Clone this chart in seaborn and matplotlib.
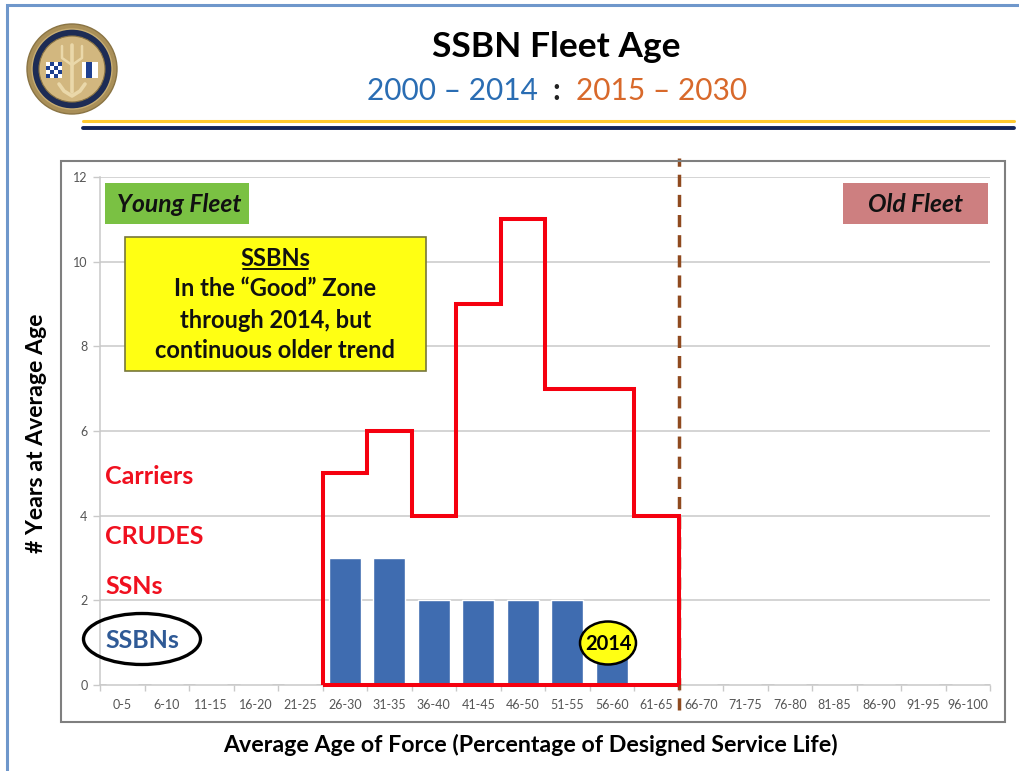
import numpy as np
import pandas as pd
import matplotlib
matplotlib.use('Agg')
import matplotlib.pyplot as plt
from matplotlib.patches import Circle, Ellipse, Rectangle
import seaborn as sns

age_bins = ['0-5', '6-10', '11-15', '16-20', '21-25', '26-30', '31-35', '36-40', '41-45', '46-50',
            '51-55', '56-60', '61-65', '66-70', '71-75', '76-80', '81-85', '86-90', '91-95', '96-100']
ssbn_years = [0, 0, 0, 0, 0, 3, 3, 2, 2, 2, 2, 1, 0, 0, 0, 0, 0, 0, 0, 0]
# red outline, from 26-30 to 61-65
outline_bins = age_bins[5:13]
outline_years = [5, 6, 4, 9, 11, 7, 7, 4]
y_ticks = [0, 2, 4, 6, 8, 10, 12]
side_labels = ['Carriers', 'CRUDES', 'SSNs', 'SSBNs']

sns.set_style('white')
plt.rcParams['font.family'] = ['Lato', 'DejaVu Sans']
plt.rcParams['text.color'] = 'black'
plt.rcParams['axes.labelcolor'] = 'black'

fig = plt.figure(figsize=(10.2, 7.71), dpi=100)
W, H = 1020, 771
ax = fig.add_axes([100 / W, 1 - 685 / H, 890 / W, 508 / H])

# bars
df = pd.DataFrame({'age': age_bins, 'years': ssbn_years})
sns.barplot(data=df, x='age', y='years', order=age_bins, color='#3f6cb0', saturation=1,
            width=0.72, ax=ax, zorder=3)
ax.set_xlim(-0.5, len(age_bins) - 0.5)
ax.set_ylim(0, 12)
ax.set_yticks(y_ticks)
ax.set_xticks(np.arange(len(age_bins)))
ax.set_xticklabels(age_bins)
ax.set_xticks(np.arange(len(age_bins) + 1) - 0.5, minor=True)
ax.grid(axis='y', color='#c9c9c9', lw=1.1, zorder=0)
ax.tick_params(axis='x', which='major', length=0, labelsize=9, labelcolor='#555555', pad=10)
ax.tick_params(axis='x', which='minor', length=4, width=1, color='#c9c9c9', bottom=True)
ax.tick_params(axis='y', length=5, width=1, color='#c9c9c9', left=True, labelsize=9,
               labelcolor='#555555', pad=4)
for side in ['top', 'right']:
    ax.spines[side].set_visible(False)
for side in ['left', 'bottom']:
    ax.spines[side].set_color('#c9c9c9')
    ax.spines[side].set_linewidth(1.1)

ax.set_xlabel('Average Age of Force (Percentage of Designed Service Life)', fontsize=16.7,
              fontweight='bold', va='center')
ax.xaxis.set_label_coords((530 - 100) / 890, -(745 - 685) / 508)
ax.set_ylabel('# Years at Average Age', fontsize=16.6, fontweight='bold', va='center')
ax.yaxis.set_label_coords((37 - 100) / 890, (685 - 433) / 508)

# red outline and the 65% limit
start = age_bins.index(outline_bins[0])
edges = np.arange(start, start + len(outline_bins) + 1) - 0.5
ax.stairs(outline_years, edges, baseline=0, fill=False, color='#f5000f', lw=2.9, zorder=5,
          clip_on=False)
ax.hlines(0, edges[0], edges[-1], color='#f5000f', lw=2.9, zorder=5, clip_on=False)
ax.axvline(edges[-1], ymin=-0.05, ymax=1.037, color='#8f4a1f', lw=2.5, dashes=(3.5, 2.3),
           clip_on=False, zorder=4)

# everything else is placed in pixels on a full-size overlay
ov = fig.add_axes([0, 0, 1, 1], zorder=10)
ov.set_xlim(0, W)
ov.set_ylim(H, 0)
ov.axis('off')


def box(x0, y0, x1, y1, fc, ec='none', lw=0, z=2):
    ov.add_patch(Rectangle((x0, y0), x1 - x0, y1 - y0, fc=fc, ec=ec, lw=lw, zorder=z))


# slide frame and chart frame
ov.plot([7.5, 7.5, W], [H, 5, 5], color='#6f97cb', lw=2.2, solid_joinstyle='miter')
box(61.5, 160.5, 1005.5, 722, 'none', ec='#7f7f7f', lw=1.5)

# header
ov.text(556, 47, 'SSBN Fleet Age', fontsize=25.5, fontweight='bold', ha='center', va='center')
ov.text(452, 91, '2000 – 2014', fontsize=21.5, color='#2a6db3', ha='center', va='center')
ov.text(556, 91, ':', fontsize=21.5, fontweight='bold', color='#222222', ha='center', va='center')
ov.text(662, 91, '2015 – 2030', fontsize=21.5, color='#d8692b', ha='center', va='center')
ov.plot([83, 1014], [121, 121], color='#fdc82f', lw=2.2)
ov.plot([83, 1014], [127.5, 127.5], color='#10235a', lw=2.8)

# seal
ov.add_patch(Circle((72, 69), 45, fc='#a98f58', ec='#8a7444', lw=1))
ov.add_patch(Circle((72, 69), 40, fc='#1d2c55', ec='#c7ad72', lw=1))
ov.add_patch(Circle((72, 69), 33, fc='#d2b77f', ec='#8a7444', lw=0.8))
ov.plot([72, 72], [45, 92], color='#ead8aa', lw=2.6)
ov.plot([62, 62, 72, 82, 82], [46, 58, 65, 58, 46], color='#ead8aa', lw=1.8)
ov.plot([59, 64, 72, 80, 85], [84, 91, 96, 91, 84], color='#ead8aa', lw=2.6)
box(46, 62, 62, 78, '#1d3f8f')
for i in range(4):
    for j in range(4):
        if (i + j) % 2 == 0:
            box(46 + i * 4, 62 + j * 4, 50 + i * 4, 66 + j * 4, 'white', z=3)
box(82, 62, 98, 78, 'white')
box(86, 62, 92, 78, '#1d3f8f', z=3)

# fleet tags
box(105, 183, 249, 224, '#7ac143')
ov.text(179, 204, 'Young Fleet', fontsize=17.7, fontweight='bold', style='italic', color='#111111',
        ha='center', va='center', zorder=3)
box(843, 183, 988, 224, '#cd7f80')
ov.text(916, 204, 'Old Fleet', fontsize=17.7, fontweight='bold', style='italic', color='#111111',
        ha='center', va='center', zorder=3)

# note
box(125, 236.5, 426, 370.5, '#ffff13', ec='#77773a', lw=1.2)
note_lines = ['SSBNs', 'In the “Good” Zone', 'through 2014, but', 'continuous older trend']
for line, y in zip(note_lines, [259, 289, 320, 351]):
    ov.text(275.5, y, line, fontsize=17, fontweight='bold', color='#111111', ha='center', va='center', zorder=3)
ov.plot([243, 308], [269, 269], color='black', lw=1.3, zorder=3)

# force labels
for name, y, col in zip(side_labels, [477, 536, 587, 640], ['#f0101f'] * 3 + ['#2f5a96']):
    ov.text(105, y, name, fontsize=18, fontweight='bold', color=col, ha='left', va='center')
ov.add_patch(Ellipse((142, 639), 117, 51, fc='none', ec='black', lw=2.4))

# 2014 marker
ov.add_patch(Ellipse((608, 643), 56, 43, fc='#ffff13', ec='black', lw=1.8))
ov.text(608.5, 644, '2014', fontsize=14.5, fontweight='bold', ha='center', va='center')

fig.savefig('out.png', dpi=100)
